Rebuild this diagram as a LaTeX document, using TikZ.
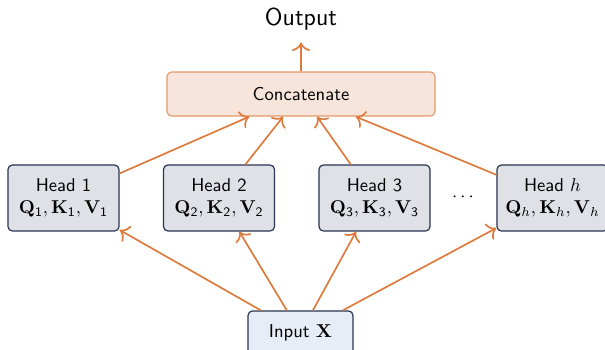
\documentclass[tikz,border=0pt]{standalone}
\usetikzlibrary{arrows.meta}
\definecolor{arrowc}{HTML}{DD7A3C}
\definecolor{headfill}{HTML}{DFE1E7}
\definecolor{navy}{HTML}{2B3452}
\definecolor{inputfill}{HTML}{E7EDF6}
\definecolor{catfill}{HTML}{F7E4DA}
\definecolor{catdraw}{HTML}{E39A6C}
\tikzset{
  headbox/.style={draw=navy, fill=headfill, line width=0.65pt, rounded corners=2.4pt,
    minimum width=59.7pt, minimum height=35.5pt, align=center, font=\sffamily, inner sep=0pt},
  inbox/.style={draw=navy, fill=inputfill, line width=0.65pt, rounded corners=2.4pt,
    minimum width=56.4pt, minimum height=23.7pt, font=\sffamily, inner sep=0pt},
  catbox/.style={draw=catdraw, fill=catfill, line width=0.65pt, rounded corners=2.4pt,
    minimum width=144pt, minimum height=23.7pt, font=\sffamily, inner sep=0pt},
  conn/.style={draw=arrowc, line width=0.9pt, -{To[scale=1.3]}},
}
\begin{document}
\begin{tikzpicture}[x=0.5376pt, y=-0.5376pt]
\useasboundingbox (0,0) rectangle (605,349);
\node[font=\sffamily\fontsize{13.2}{15}\selectfont] (out) at (301,19) {Output};
\node[catbox] (cat) at (301,94) {Concatenate};
\node[headbox] (h1) at (63.5,198) {Head 1\\$\mathbf{Q}_{\mathsf{1}},\mathbf{K}_{\mathsf{1}},\mathbf{V}_{\mathsf{1}}$};
\node[headbox] (h2) at (219,198) {Head 2\\$\mathbf{Q}_{\mathsf{2}},\mathbf{K}_{\mathsf{2}},\mathbf{V}_{\mathsf{2}}$};
\node[headbox] (h3) at (374.5,198) {Head 3\\$\mathbf{Q}_{\mathsf{3}},\mathbf{K}_{\mathsf{3}},\mathbf{V}_{\mathsf{3}}$};
\node[headbox] (hh) at (552.5,198) {Head $h$\\$\mathbf{Q}_{h},\mathbf{K}_{h},\mathbf{V}_{h}$};
\node (dots) at (463,197) {$\cdots$};
\node[inbox] (in) at (300.5,333) {Input $\mathbf{X}$};
\draw[conn] (in) -- (h1);
\draw[conn] (in) -- (h2);
\draw[conn] (in) -- (h3);
\draw[conn] (in) -- (hh);
\draw[conn] (h1) -- (cat);
\draw[conn] (h2) -- (cat);
\draw[conn] (h3) -- (cat);
\draw[conn] (hh) -- (cat);
\draw[conn, shorten >=3pt] (cat) -- (out);
\end{tikzpicture}
\end{document}
